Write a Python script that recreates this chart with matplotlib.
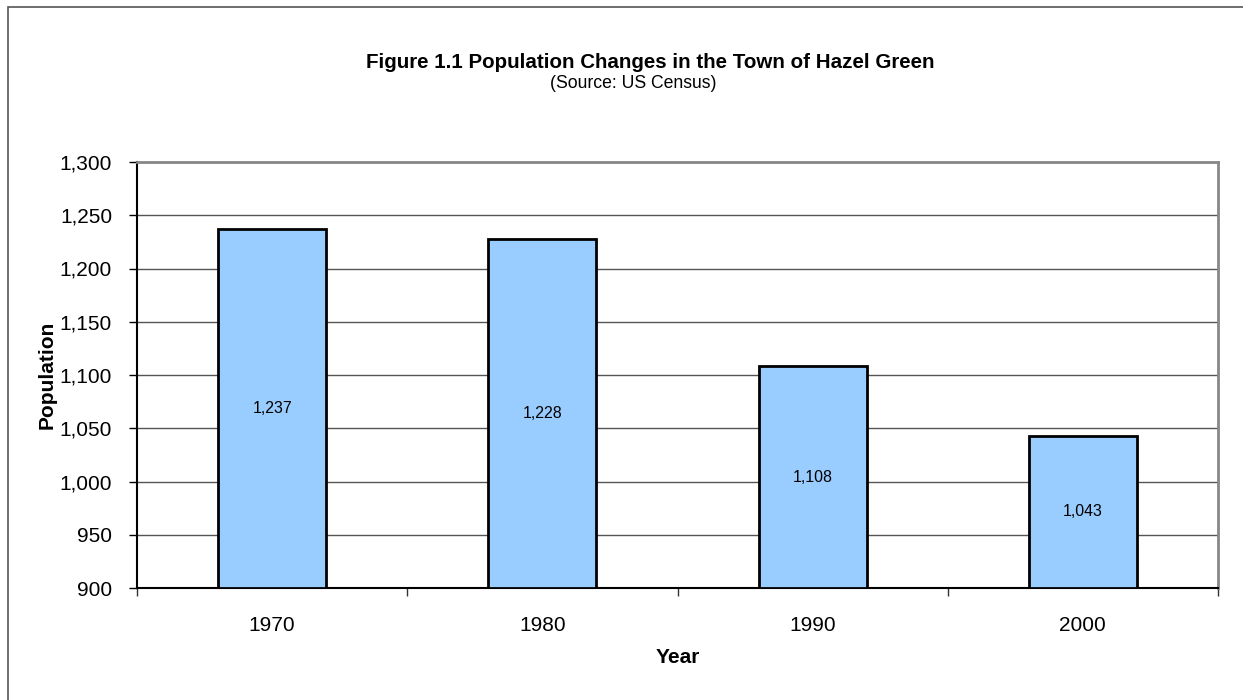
#!/usr/bin/env python3
import matplotlib
matplotlib.use("Agg")
import matplotlib.pyplot as plt
from matplotlib.patches import Rectangle
from matplotlib.ticker import FuncFormatter, FixedLocator

years = ["1970", "1980", "1990", "2000"]
population = [1237, 1228, 1108, 1043]
y_min, y_max, y_step = 900, 1300, 50

plt.rcParams["font.family"] = ["Liberation Sans", "DejaVu Sans"]

W, H = 1243, 700
fig = plt.figure(figsize=(W / 100, H / 100), dpi=100)

# outer chart border (right and bottom edges fall outside the image)
fig.patches.append(Rectangle((8 / W, -0.2), 1.2, 1.2 - 7 / H, transform=fig.transFigure,
                             fill=False, edgecolor="#555555", linewidth=1.2))

ax = fig.add_axes([137 / W, 1 - 588 / H, (1218 - 137) / W, (588 - 162) / H])

x = list(range(len(years)))
ax.bar(x, [p - y_min for p in population], bottom=y_min, width=0.4,
       color="#99CCFF", edgecolor="black", linewidth=2, zorder=3)

for xi, p in zip(x, population):
    ax.text(xi, (y_min + p) / 2, f"{p:,}", ha="center", va="center",
            fontsize=11.4, zorder=4)

ax.set_xlim(-0.5, len(years) - 0.5)
ax.set_ylim(y_min, y_max)
ax.set_yticks(range(y_min, y_max + 1, y_step))
ax.yaxis.set_major_formatter(FuncFormatter(lambda v, _: f"{int(v):,}"))
ax.yaxis.grid(True, color="#555555", linewidth=1)
ax.set_axisbelow(True)

# category ticks sit at the boundaries, labels centered
ax.xaxis.set_major_locator(FixedLocator([i - 0.5 for i in range(len(years) + 1)]))
ax.xaxis.set_major_formatter(FuncFormatter(lambda v, _: ""))
ax.xaxis.set_minor_locator(FixedLocator(x))
ax.set_xticklabels(years, minor=True)
ax.tick_params(axis="x", which="minor", length=0, pad=20.5, labelsize=15)
ax.tick_params(axis="x", which="major", length=6, width=1, color="#333333")
ax.tick_params(axis="y", length=6, width=1, labelsize=15, pad=12)

for side in ["left", "bottom"]:
    ax.spines[side].set_color("black")
    ax.spines[side].set_linewidth(1.5)
for side in ["top", "right"]:
    ax.spines[side].set_color("#888888")
    ax.spines[side].set_linewidth(2)

ax.set_xlabel("Year", fontsize=15, fontweight="bold", labelpad=9)
ax.set_ylabel("Population", fontsize=15, fontweight="bold", labelpad=2)

fig.text(650 / W, 1 - 62 / H, "Figure 1.1 Population Changes in the Town of Hazel Green",
         ha="center", va="center", fontsize=14.8, fontweight="bold")
fig.text(633 / W, 1 - 83 / H, "(Source: US Census)", ha="center", va="center", fontsize=12.7)

fig.savefig("out.png", dpi=100)
